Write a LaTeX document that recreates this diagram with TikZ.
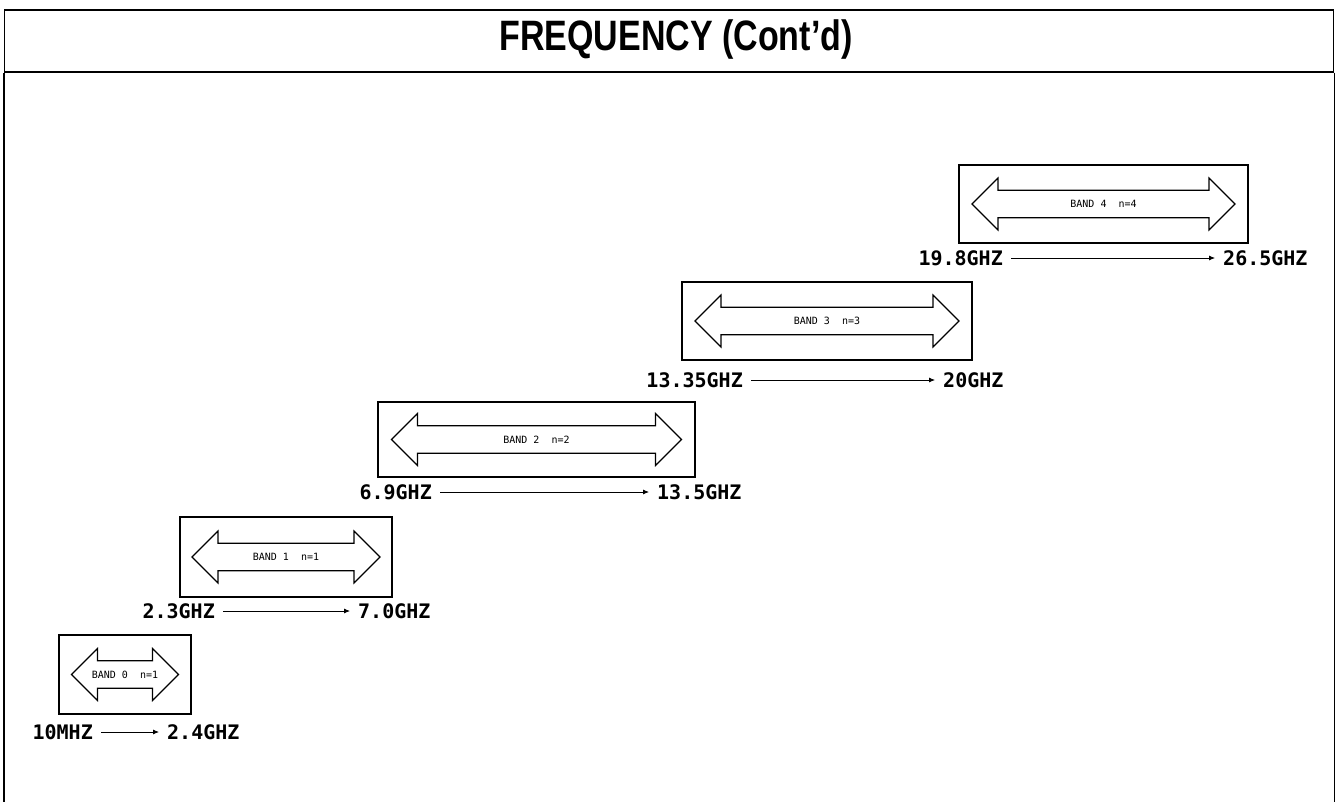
\documentclass[tikz,border=0pt]{standalone}
\usepackage{fontspec}
\setmainfont{Liberation Sans}
\newfontfamily\freqfont{DejaVu Sans Mono}
\usetikzlibrary{arrows.meta,positioning,shapes.arrows}

\begin{document}
\begin{tikzpicture}[
  x=1pt, y=-1pt,
  bandbox/.style = {draw, line width=1.2pt, inner sep=0pt},
  bandarrow/.style = {draw, double arrow, double arrow tip angle=90,
    double arrow head extend=11pt, minimum width=52pt, inner xsep=0pt,
    inner ysep=8pt, line width=1.2pt, font=\freqfont\fontsize{10}{10}\selectfont},
  freq/.style = {inner sep=2pt, font=\freqfont\bfseries\fontsize{20}{20}\selectfont},
  arr/.style = {-{Latex[length=6pt,width=5pt]}, line width=0.8pt,
    shorten <=6pt, shorten >=6pt},
]
\useasboundingbox (0,0) rectangle (1338,802);
% frame and heading
\node[draw, line width=1.5pt, minimum width=1329pt, minimum height=62pt] (head) at (669,41) {};
\node[font=\bfseries\fontsize{34}{40}\selectfont] (title) at (676,40) {\scalebox{1}[1.25]{FREQUENCY (Cont'd)}};
\draw[line width=1.5pt] (head.south west) -- ++(0,761);
\draw[line width=1.5pt] (head.south east) -- ++(0,761);

% band 0
\node[bandbox, minimum width=132pt, minimum height=79pt] (b0) at (125,674.5) {};
\node[bandarrow, minimum height=107pt] (a0) at (b0) {BAND 0\ \ n=1};
\node[freq, anchor=east] (lo0) at (95,732) {10MHZ};
\node[freq, anchor=west] (hi0) at (165,732) {2.4GHZ};
\draw[arr] (lo0) -- (hi0);

% band 1
\node[bandbox, minimum width=212pt, minimum height=80pt] (b1) at (286,557) {};
\node[bandarrow, minimum height=188pt] (a1) at (b1) {BAND 1\ \ n=1};
\node[freq, anchor=east] (lo1) at (217,611) {2.3GHZ};
\node[freq, anchor=west] (hi1) at (356,611) {7.0GHZ};
\draw[arr] (lo1) -- (hi1);

% band 2
\node[bandbox, minimum width=317pt, minimum height=75pt] (b2) at (536.5,439.5) {};
\node[bandarrow, minimum height=290pt] (a2) at (b2) {BAND 2\ \ n=2};
\node[freq, anchor=east] (lo2) at (434,492) {6.9GHZ};
\node[freq, anchor=west] (hi2) at (655,492) {13.5GHZ};
\draw[arr] (lo2) -- (hi2);

% band 3
\node[bandbox, minimum width=290pt, minimum height=78pt] (b3) at (827,321) {};
\node[bandarrow, minimum height=264pt] (a3) at (b3) {BAND 3\ \ n=3};
\node[freq, anchor=east] (lo3) at (745,380) {13.35GHZ};
\node[freq, anchor=west] (hi3) at (941,380) {20GHZ};
\draw[arr] (lo3) -- (hi3);

% band 4
\node[bandbox, minimum width=289pt, minimum height=78pt] (b4) at (1103.5,204) {};
\node[bandarrow, minimum height=263pt] (a4) at (b4) {BAND 4\ \ n=4};
\node[freq, anchor=east] (lo4) at (1005,258) {19.8GHZ};
\node[freq, anchor=west] (hi4) at (1221,258) {26.5GHZ};
\draw[arr] (lo4) -- (hi4);
\end{tikzpicture}
\end{document}
